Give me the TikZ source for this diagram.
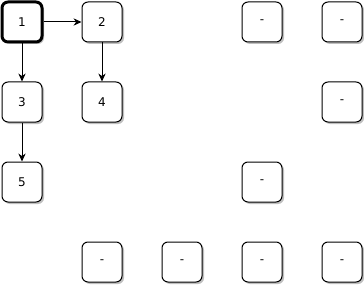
\documentclass[tikz,border=0pt]{standalone}
\usepackage{fontspec}
\setmainfont{DejaVu Sans}
\usetikzlibrary{arrows.meta,shadows}
\begin{document}
\begin{tikzpicture}[x=0.75pt,y=-0.75pt,
  cell/.style={draw=black,fill=white,rounded corners=4.5pt,minimum width=30pt,minimum height=30pt,
    line width=0.75pt,font=\fontsize{9}{10}\selectfont,inner sep=0pt,
    drop shadow={shadow xshift=1.5pt,shadow yshift=-1.5pt,fill=black!25,opacity=1}},
  start/.style={cell,line width=2.25pt},
  conn/.style={draw=black,line width=0.75pt,-{Stealth[length=6pt,width=5.5pt]}}]
\useasboundingbox (0,0) rectangle (364,285);
\node[start] (n1) at (22,22) {1};
\node[cell] (n2) at (102,22) {2};
\node[cell] (a1) at (262,22) {-};
\node[cell] (a2) at (342,22) {-};
\node[cell] (n3) at (22,102) {3};
\node[cell] (n4) at (102,102) {4};
\node[cell] (a3) at (342,102) {-};
\node[cell] (n5) at (22,182) {5};
\node[cell] (a4) at (262,182) {-};
\node[cell] (a5) at (102,262) {-};
\node[cell] (a6) at (182,262) {-};
\node[cell] (a7) at (262,262) {-};
\node[cell] (a8) at (342,262) {-};
\draw[conn] (n1) -- (n2);
\draw[conn] (n1) -- (n3);
\draw[conn] (n3) -- (n5);
\draw[conn] (n2) -- (n4);
\end{tikzpicture}
\end{document}
